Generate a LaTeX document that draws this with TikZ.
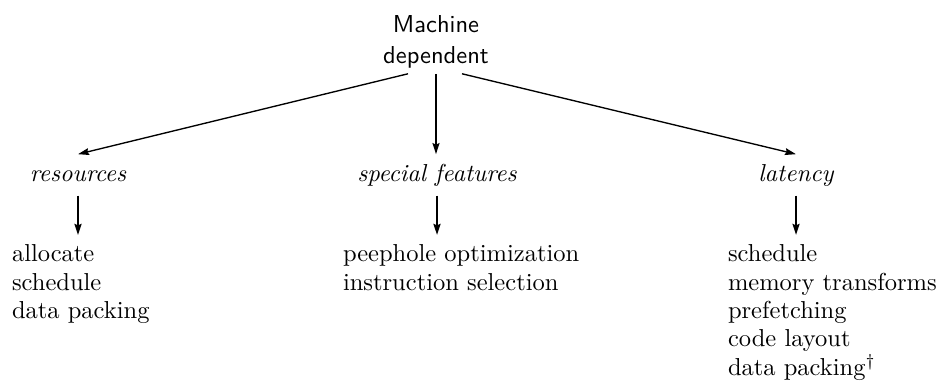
\documentclass[tikz,border=0pt]{standalone}
\usetikzlibrary{arrows.meta}
\begin{document}
\begin{tikzpicture}[x=0.408pt,y=-0.408pt,
  arr/.style={-{Stealth[length=4.5pt,width=2.8pt,inset=0.6pt]}},
  toparr/.style={arr,line width=0.55pt},
  vtoparr/.style={arr,line width=0.8pt},
  lowarr/.style={arr,line width=1pt},
  headbox/.style={font=\sffamily\fontsize{10}{12.6}\selectfont,align=center,inner sep=0pt,outer xsep=0pt,outer ysep=2.45pt},
  catbox/.style={font=\itshape,inner sep=0pt,outer xsep=0pt,outer ysep=4pt,text height=6.94pt,text depth=1.94pt,anchor=base},
  listbox/.style={font=\fontsize{10}{11.55}\selectfont,align=left,inner sep=0pt,outer xsep=0pt,outer ysep=4pt,anchor=north west}]
\useasboundingbox (0,0) rectangle (938,381);
\node[headbox,anchor=base] (md) at (436,63) {Machine\\dependent};
\node[catbox] (res) at (78,181) {resources};
\node[catbox] (sf) at (437,181) {special features};
\node[catbox] (lat) at (796,181) {latency};
\node[listbox] (l1) at (12,235) {allocate\\schedule\\data packing};
\node[listbox] (l2) at (343,235) {peephole optimization\\instruction selection};
\node[listbox] (l3) at (728,235) {schedule\\memory transforms\\prefetching\\code layout\\data packing$^\dagger$};
\draw[toparr] ([xshift=-11.4pt]md.south) -- (res.north);
\draw[vtoparr] (md.south) -- (md.south |- sf.north);
\draw[toparr] ([xshift=10.6pt]md.south) -- (lat.north);
\draw[lowarr] (res.south) -- (res.south |- l1.north);
\draw[lowarr] (sf.south) -- (sf.south |- l2.north);
\draw[lowarr] (lat.south) -- (lat.south |- l3.north);
\end{tikzpicture}
\end{document}
